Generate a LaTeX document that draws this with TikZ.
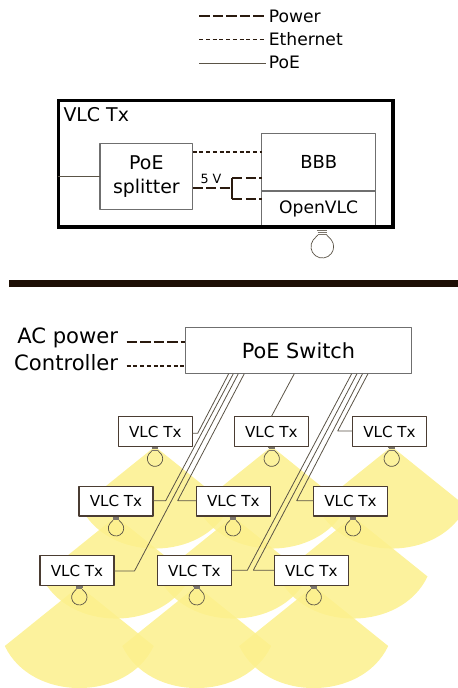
\documentclass[tikz,border=0pt]{standalone}
\usepackage{fontspec}
\setmainfont{DejaVu Sans}
\usepackage{tikz}
\usetikzlibrary{arrows.meta}
\definecolor{conefill}{HTML}{FCF08C}
\definecolor{barcol}{HTML}{1E0F05}
\definecolor{wirecol}{HTML}{5A5346}
\definecolor{graybox}{HTML}{6F6F6F}
\definecolor{powercol}{HTML}{2A1A0E}
\tikzset{
  size/.style={font=\fontsize{#1}{#1}\selectfont},
  txbox/.style={draw=powercol!85!white,fill=white,line width=1.05bp,outer sep=0pt,inner sep=0pt,
    minimum width=74bp,minimum height=29.6bp,size=15.2},
  unitbox/.style={draw=graybox,fill=white,line width=1.1bp,outer sep=0pt,inner sep=0pt},
  legendtext/.style={anchor=west,inner sep=0pt,inner xsep=2.7bp,size=17.2},
  sidetext/.style={anchor=base east,inner sep=0pt,size=21.2},
  powerline/.style={powercol,line width=1.7bp,dash pattern=on 10.5bp off 3bp},
  etherline/.style={powercol,line width=1.2bp,dash pattern=on 4bp off 2.7bp},
  poeline/.style={wirecol,line width=0.8bp},
  cone/.pic={\fill[conefill,opacity=0.85] (0bp,0bp) -- (-74.5bp,-60bp) .. controls (-48bp,-116.1bp) and (48bp,-116.1bp) .. (74.5bp,-60bp) -- cycle;},
  bulb/.pic={
    \draw[wirecol,line width=0.7bp] (-3bp,8bp) -- (-6.15bp,4.63bp) arc[start angle=143,end angle=397,radius=7.7bp] -- (3bp,8bp);
    \draw[wirecol!80!white,line width=0.45bp] (-3bp,8.6bp) -- (3bp,8.6bp) (-3.2bp,10bp) -- (3.2bp,10bp) (-3.4bp,11.4bp) -- (3.4bp,11.4bp);
  },
}
\begin{document}
\begin{tikzpicture}[line join=bevel,]
\clip (0bp,0bp) rectangle (458bp,688bp);
%% light cones
\pic at (155bp,241.5bp) {cone};
\pic at (271.7bp,241.5bp) {cone};
\pic at (391.7bp,241.5bp) {cone};
\pic at (116bp,171.5bp) {cone};
\pic at (233bp,171.5bp) {cone};
\pic at (353bp,171.5bp) {cone};
\pic at (79.3bp,102bp) {cone};
\pic at (196.7bp,102bp) {cone};
\pic at (313.7bp,102bp) {cone};
%% legend
\node (node_power) at (266bp,671.8bp) [legendtext] {Power};
\node (node_ether) at (266bp,649bp) [legendtext] {Ethernet};
\node (node_poe) at (266bp,625.8bp) [legendtext] {PoE};
\coordinate (leg_power) at (199.3bp,672.3bp);
\coordinate (leg_ether) at (199.3bp,648.7bp);
\coordinate (leg_poe) at (199.3bp,624.7bp);
\draw [powerline] (leg_power) -- (leg_power -| node_power.west);
\draw [etherline] (leg_ether) -- (leg_ether -| node_ether.west);
\draw [poeline] (leg_poe) -- (leg_poe -| node_poe.west);
%% one transmitter
\node (node_frame) at (225.65bp,524.35bp) [draw=black,line width=3.3bp,line join=miter,outer sep=0pt,minimum width=334.7bp,minimum height=126.7bp] {};
\node (node_title) at (63.3bp,573bp) [anchor=west,inner sep=0pt,size=19] {VLC Tx};
\node (node_splitter) at (146.35bp,511.7bp) [unitbox,minimum width=92.7bp,minimum height=66bp,align=center,font=\fontsize{19}{24.3}\selectfont] {PoE\\splitter};
\node (node_bbb) at (318.7bp,525.65bp) [unitbox,minimum width=114bp,minimum height=57.3bp,size=18] {BBB};
\node (node_openvlc) at (318.7bp,479bp) [unitbox,minimum width=114bp,minimum height=36bp,size=17.2] {OpenVLC};
\node (node_5v) at (211bp,508.7bp) [inner sep=0pt,size=12.8] {5 V};
\coordinate (eth_in) at (192.7bp,536bp);
\coordinate (jct_in) at (232.3bp,499.7bp);
\coordinate (jct_up) at (232.3bp,510bp);
\coordinate (jct_dn) at (232.3bp,489.3bp);
\draw [poeline] (node_splitter) -- (node_frame.west |- node_splitter);
\draw [etherline] (eth_in) -- (eth_in -| node_bbb.west);
\draw [powerline,dash pattern=on 10bp off 3.5bp] (jct_in -| node_splitter.east) -- (jct_in);
\draw [powerline,dash pattern=on 10bp off 3.5bp] (jct_up) -- (jct_up -| node_bbb.west);
\draw [powerline,dash pattern=on 10bp off 3.5bp] (jct_dn) -- (jct_dn -| node_bbb.west);
\draw [powerline,solid] (jct_up) -- (jct_dn);
\draw [draw=black,line width=3.3bp,line cap=rect] (node_frame.south west) -- (node_frame.south east);
\pic [scale=1.47] at (322.3bp,441.3bp) {bulb};
%% divider
\fill [barcol] (9bp,400.7bp) rectangle (458bp,408bp);
%% switch and its inputs
\node (node_sw) at (298.5bp,337.3bp) [unitbox,minimum width=226.4bp,minimum height=46bp,size=20.9] {PoE Switch};
\node (node_ac) at (118.3bp,344.7bp) [sidetext] {AC power};
\node (node_ctrl) at (118.3bp,317.3bp) [sidetext] {Controller};
\coordinate (in_ac) at (126.7bp,346bp);
\coordinate (in_ctrl) at (126.7bp,322bp);
\draw [powerline] (in_ac) -- (in_ac -| node_sw.west);
\draw [etherline] (in_ctrl) -- (in_ctrl -| node_sw.west);
%% transmitters
\node (node_tx_1) at (155.3bp,256.5bp) [txbox] {VLC Tx};
\node (node_tx_2) at (271.3bp,256.5bp) [txbox] {VLC Tx};
\node (node_tx_3) at (389.5bp,256.5bp) [txbox] {VLC Tx};
\node (node_tx_4) at (116bp,186.8bp) [txbox] {VLC Tx};
\node (node_tx_5) at (233.3bp,186.8bp) [txbox] {VLC Tx};
\node (node_tx_6) at (350.5bp,186.8bp) [txbox] {VLC Tx};
\node (node_tx_7) at (77bp,117.5bp) [txbox] {VLC Tx};
\node (node_tx_8) at (194.3bp,117.5bp) [txbox] {VLC Tx};
\node (node_tx_9) at (311.3bp,117.5bp) [txbox] {VLC Tx};
\pic at (155bp,229.3bp) {bulb};
\pic at (271.7bp,229.3bp) {bulb};
\pic at (391.7bp,229.3bp) {bulb};
\pic at (116bp,159.7bp) {bulb};
\pic at (233bp,159.7bp) {bulb};
\pic at (353bp,159.7bp) {bulb};
\pic at (79.3bp,90.7bp) {bulb};
\pic at (196.7bp,90.7bp) {bulb};
\pic at (313.7bp,90.7bp) {bulb};
%% PoE wiring
\coordinate (bend_1) at (197.7bp,254.7bp);
\coordinate (bend_3) at (337.7bp,257bp);
\coordinate (bend_4) at (165.7bp,187.3bp);
\coordinate (bend_5) at (177.7bp,187.3bp);
\coordinate (bend_6) at (296.7bp,187.3bp);
\coordinate (bend_7) at (134.5bp,117bp);
\coordinate (bend_8) at (247.3bp,117.7bp);
\coordinate (bend_9) at (253.3bp,117.7bp);
\draw [poeline] (node_tx_1.east |- bend_1) -- (bend_1) -- (228.7bp,0bp |- node_sw.south);
\draw [poeline] (node_tx_2.north) -- (294.3bp,0bp |- node_sw.south);
\draw [poeline] (node_tx_3.west |- bend_3) -- (bend_3) -- (368bp,0bp |- node_sw.south);
\draw [poeline] (node_tx_4.east |- bend_4) -- (bend_4) -- (233.3bp,0bp |- node_sw.south);
\draw [poeline] (node_tx_5.west |- bend_5) -- (bend_5) -- (244.3bp,0bp |- node_sw.south);
\draw [poeline] (node_tx_6.west |- bend_6) -- (bend_6) -- (362.5bp,0bp |- node_sw.south);
\draw [poeline] (node_tx_7.east |- bend_7) -- (bend_7) -- (238.3bp,0bp |- node_sw.south);
\draw [poeline] (node_tx_8.east |- bend_8) -- (bend_8) -- (351.7bp,0bp |- node_sw.south);
\draw [poeline] (node_tx_9.west |- bend_9) -- (bend_9) -- (357bp,0bp |- node_sw.south);
%
\end{tikzpicture}
\end{document}
